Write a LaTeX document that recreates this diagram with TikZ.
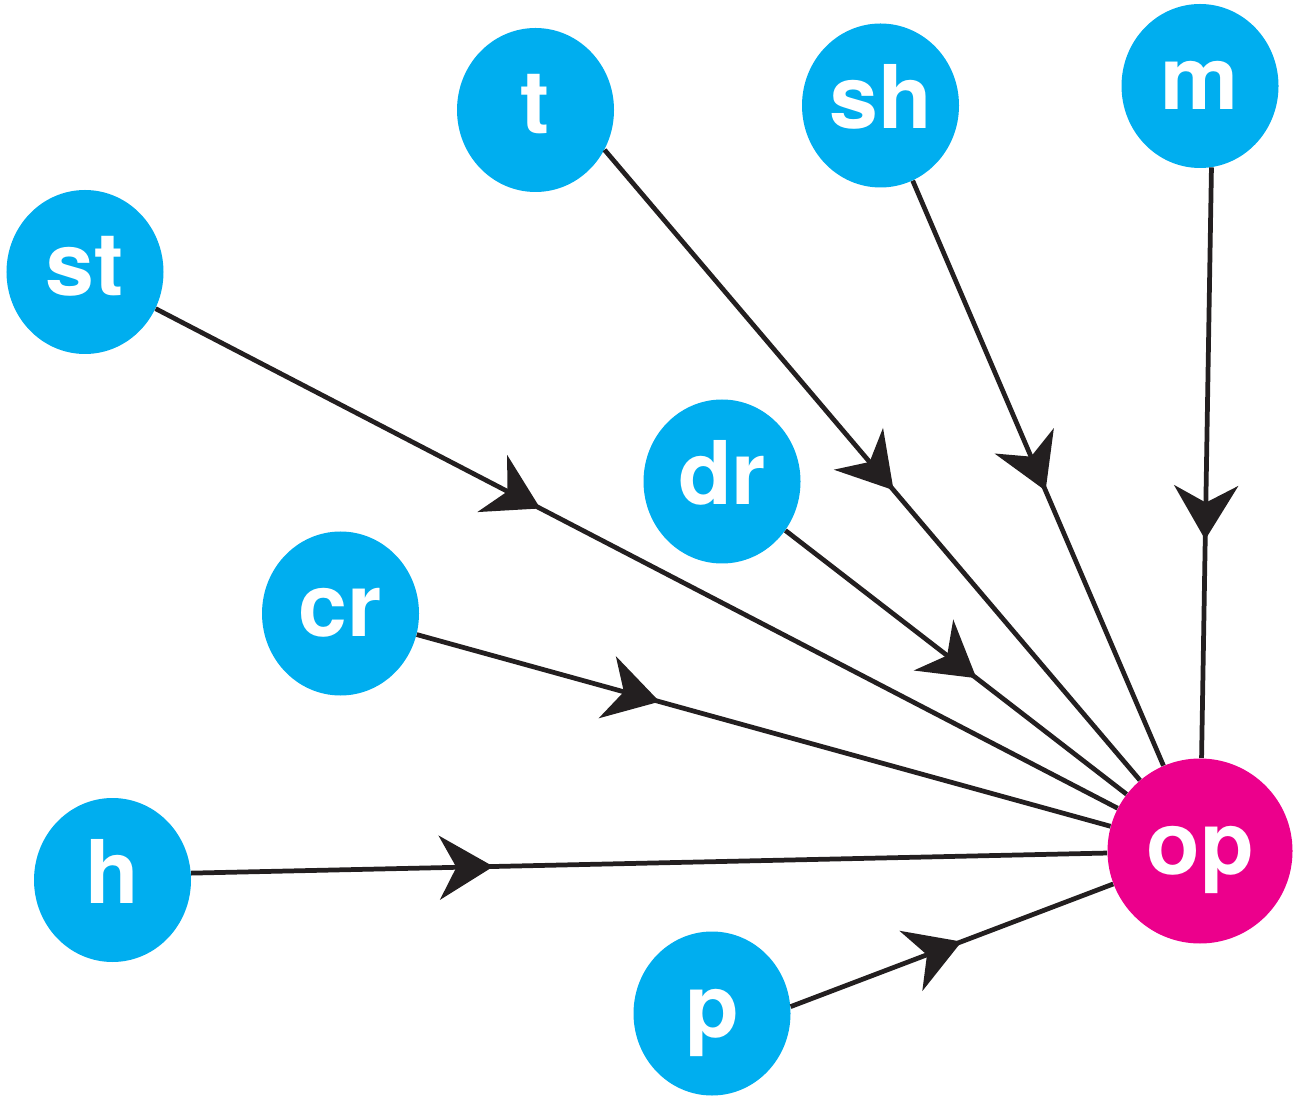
\documentclass[tikz,border=0pt]{standalone}
\usepackage{fontspec}
\setmainfont{TeX Gyre Heros}
\usepackage{tikz}
\usetikzlibrary{positioning}
\usetikzlibrary{shapes.geometric}
\usetikzlibrary{arrows.meta}
\usetikzlibrary{decorations.markings}

\definecolor{nodeblue}{HTML}{00AEEF}
\definecolor{nodepink}{HTML}{EC008C}
\definecolor{linedark}{HTML}{231F20}

\tikzset{
    blob/.style={ellipse, fill=nodeblue, minimum width=3.14cm, minimum height=3.28cm,
        inner sep=0pt, text=white, font=\fontsize{50}{58}\selectfont\bfseries,
        text height=0.94cm, text depth=0cm},
    target/.style={blob, circle, fill=nodepink, minimum size=3.7cm},
    edge/.style={draw=linedark, line width=2.7pt},
    midarrow/.style={postaction={decorate}, decoration={markings,
        mark=at position #1 with {\arrow[linedark]{Stealth[length=1.08cm, width=1.28cm, inset=0.34cm]}}}},
}

\begin{document}
\begin{tikzpicture}[node distance=1cm, on grid]
    \useasboundingbox (0,0) rectangle (25.9,21.96);

    \node [target] (op) at (24.0,4.94) {op};

    \node [blob, above left=14.82cm and 13.29cm of op] (t) {t};
    \node [blob, above left=14.91cm and 6.39cm of op] (sh) {sh};
    \node [blob, above=15.3cm of op] (m) {m};
    \node [blob, above left=11.58cm and 22.3cm of op] (st) {st};
    \node [blob, above left=7.39cm and 9.56cm of op] (dr) {dr};
    \node [blob, above left=4.75cm and 17.19cm of op] (cr) {cr};
    \node [blob, below left=0.58cm and 21.75cm of op] (h) {h};
    \node [blob, below left=3.25cm and 9.76cm of op] (p) {p};

    \draw [edge, midarrow=0.40] (st) -- (op);
    \draw [edge, midarrow=0.54] (t.-30) -- (op);
    \draw [edge, midarrow=0.53] (sh) -- (op);
    \draw [edge, midarrow=0.63] (m.-82) -- (op);
    \draw [edge, midarrow=0.56] (dr) -- (op);
    \draw [edge, midarrow=0.35] (cr) -- (op);
    \draw [edge, midarrow=0.33] (h.5) -- (op);
    \draw [edge, midarrow=0.53] (p.5) -- (op);
\end{tikzpicture}
\end{document}
